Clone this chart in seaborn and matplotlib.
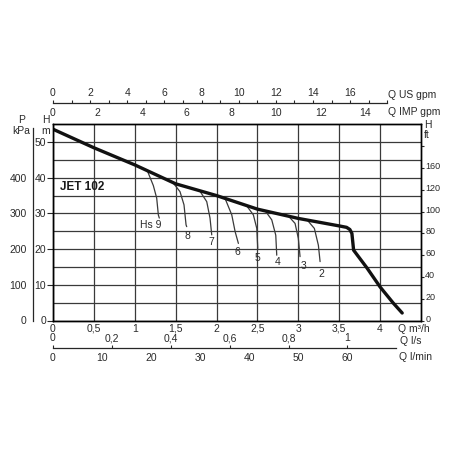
import numpy as np
import matplotlib
matplotlib.use("Agg")
import matplotlib.pyplot as plt
import matplotlib.transforms as mtransforms
import seaborn as sns

# -----------------------------
# Data (Q in m3/h, H in m)
# -----------------------------
main_q = [0, 0.5, 1.0, 1.5, 2.0, 2.5, 3.0, 3.5, 3.59, 3.63, 3.655, 3.676, 3.84, 4.0, 4.16, 4.27]
main_h = [53.6, 48.4, 43.6, 38.3, 35.0, 31.2, 28.6, 26.5, 26.1, 25.5, 24.4, 19.7, 14.7, 9.4, 4.9, 2.1]

hs_names = ["Hs 9", "8", "7", "6", "5", "4", "3", "2"]
hs_q = [
    [1.16, 1.227, 1.268, 1.288, 1.300],
    [1.471, 1.553, 1.602, 1.627, 1.635],
    [1.798, 1.880, 1.920, 1.941],
    [2.104, 2.186, 2.227, 2.267],
    [2.369, 2.450, 2.492, 2.504],
    [2.593, 2.675, 2.724, 2.736],
    [2.878, 2.960, 3.000, 3.021],
    [3.103, 3.196, 3.245, 3.266],
]
hs_h = [
    [41.6, 37.8, 34.3, 29.6, 28.7],
    [38.5, 36.1, 32.4, 26.8, 26.3],
    [36.2, 33.3, 28.7, 24.0],
    [34.2, 29.6, 24.9, 21.6],
    [32.1, 29.6, 25.8, 20.2],
    [30.8, 28.2, 23.9, 18.3],
    [29.3, 27.2, 23.0, 17.9],
    [28.3, 25.8, 21.1, 16.5],
]
hs_label_q = [1.20, 1.643, 1.941, 2.259, 2.504, 2.749, 3.062, 3.278]
hs_label_h = [26.8, 23.7, 21.9, 19.3, 17.6, 16.5, 15.4, 13.1]

q_ticks = [0, 0.5, 1, 1.5, 2, 2.5, 3, 3.5, 4]
q_labels = ["0", "0,5", "1", "1,5", "2", "2,5", "3", "3,5", "4"]
ls_ticks = [0, 0.2, 0.4, 0.6, 0.8, 1.0]
ls_labels = ["0", "0,2", "0,4", "0,6", "0,8", "1"]
lmin_ticks = [0, 10, 20, 30, 40, 50, 60, 70]
lmin_labels = ["0", "10", "20", "30", "40", "50", "60", ""]
us_ticks = [0, 2, 4, 6, 8, 10, 12, 14, 16, 18]
us_labels = ["0", "2", "4", "6", "8", "10", "12", "14", "16", ""]
imp_ticks = [0, 2, 4, 6, 8, 10, 12, 14]
imp_labels = ["0", "2", "4", "6", "8", "10", "12", "14"]
h_ticks = [0, 10, 20, 30, 40, 50]
ft_ticks = [0, 20, 40, 60, 80, 100, 120, 140, 160]
ft_labels = ["0", "20", "40", "60", "80", "100", "120", "160", ""]
kpa_ticks = [0, 100, 200, 300, 400, 500]
kpa_labels = ["0", "100", "200", "300", "400", ""]

# unit factors (to m3/h)
US_GPM = 0.2271247
IMP_GPM = 0.2727654
LPS = 3.6
LPM = 0.06

# -----------------------------
# Style
# -----------------------------
sns.set_style("white")
plt.rcParams["font.family"] = ["Liberation Sans", "DejaVu Sans"]
TXT = "#2a2a2a"
FS = 7.5


def fx(px):
    return px / 450


def fy(py):
    return 1 - py / 450


X0, X1 = 53, 421
Y0, Y1 = 320.5, 124.2
W = (X1 - X0) / 450
H = (Y0 - Y1) / 450
QMAX, HMAX = 4.5, 55

fig = plt.figure(figsize=(4.5, 4.5), dpi=100)
ax = fig.add_axes([fx(X0), fy(Y0), W, H])
ax.set_xlim(0, QMAX)
ax.set_ylim(0, HMAX)
ax.set_axisbelow(True)

ax.set_xticks(q_ticks)
ax.set_xticklabels(q_labels)
ax.set_yticks(h_ticks)
ax.set_yticks(np.arange(5, 50, 10), minor=True)
ax.grid(True, which="both", color="#3a3a3a", linewidth=0.9)
ax.tick_params(axis="x", length=0, pad=2.5, labelsize=FS, labelcolor=TXT)
ax.tick_params(axis="y", which="major", length=4, width=0.8, pad=1, labelsize=FS,
               labelcolor=TXT, direction="out")
ax.tick_params(axis="y", which="minor", length=0)
for s in ax.spines.values():
    s.set_color("black")
    s.set_linewidth(1.0)

# suction lift curves
for q, h in zip(hs_q, hs_h):
    sns.lineplot(x=q, y=h, ax=ax, color="#3a3a3a", linewidth=0.9, sort=False, estimator=None)
for name, lq, lh in zip(hs_names, hs_label_q, hs_label_h):
    ax.text(lq, lh, name, ha="center", va="center", fontsize=FS, color=TXT)

# main curve
sns.lineplot(x=main_q, y=main_h, ax=ax, color="#111111", linewidth=2.4, sort=False, estimator=None)
ax.text(0.086, 37.5, "JET 102", ha="left", va="center", fontsize=8.5,
        fontweight="bold", color="#1a1a1a")

# right axis: H ft (labels sit a little above their ticks, as in the sheet)
ax_ft = ax.twinx()
ax_ft.set_ylim(0, HMAX * 3.28084)
ax_ft.set_yticks(ft_ticks)
ax_ft.set_yticklabels(ft_labels)
ax_ft.tick_params(axis="y", length=2, width=0.8, pad=1, labelsize=6.5, labelcolor=TXT)
ax_ft.grid(False)
lift = mtransforms.ScaledTranslation(0, 2.5 / 100, fig.dpi_scale_trans)
for lab in ax_ft.get_yticklabels():
    lab.set_transform(lab.get_transform() + lift)
for s in ax_ft.spines.values():
    s.set_color("black")
    s.set_linewidth(1.0)

# left axis: P kPa
ax_p = fig.add_axes([fx(33), fy(Y0), 0.0005, H])
ax_p.patch.set_visible(False)
ax_p.set_ylim(0, HMAX * 10)
ax_p.set_yticks(kpa_ticks)
ax_p.set_yticklabels(kpa_labels)
ax_p.set_yticks(np.arange(50, 500, 100), minor=True)
ax_p.xaxis.set_visible(False)
for k in ["top", "right", "bottom"]:
    ax_p.spines[k].set_visible(False)
ax_p.spines["left"].set_bounds(0, 539)
ax_p.spines["left"].set_linewidth(0.9)
ax_p.tick_params(axis="y", which="major", length=3.5, width=0.8, pad=1, labelsize=FS, labelcolor=TXT)
ax_p.tick_params(axis="y", which="minor", length=3, width=0.8)

# top axes: US gpm (above) and IMP gpm (below)
top_rect = [fx(X0), fy(103.3), W, 0.0005]
ax_us = fig.add_axes(top_rect)
ax_us.patch.set_visible(False)
ax_us.set_xlim(0, QMAX / US_GPM)
ax_us.yaxis.set_visible(False)
ax_us.xaxis.set_ticks_position("top")
ax_us.xaxis.set_label_position("top")
ax_us.set_xticks(us_ticks)
ax_us.set_xticklabels(us_labels)
ax_us.set_xticks(np.arange(1, 18, 2), minor=True)
for k in ["top", "left", "right"]:
    ax_us.spines[k].set_visible(False)
ax_us.spines["bottom"].set_bounds(0, 18)
ax_us.spines["bottom"].set_linewidth(0.9)
ax_us.tick_params(axis="x", which="both", length=2.5, width=0.8, pad=0.8, labelsize=FS, labelcolor=TXT)

ax_imp = fig.add_axes(top_rect)
ax_imp.patch.set_visible(False)
ax_imp.set_xlim(0, QMAX / IMP_GPM)
ax_imp.yaxis.set_visible(False)
ax_imp.set_xticks(imp_ticks)
ax_imp.set_xticklabels(imp_labels)
ax_imp.set_xticks(np.arange(1, 15, 2), minor=True)
for s in ax_imp.spines.values():
    s.set_visible(False)
ax_imp.tick_params(axis="x", which="both", length=2.5, width=0.8, pad=1, labelsize=FS, labelcolor=TXT)

# bottom axes: l/s (above line) and l/min (below line)
bot_rect = [fx(X0), fy(348.3), W, 0.0005]
ax_ls = fig.add_axes(bot_rect)
ax_ls.patch.set_visible(False)
ax_ls.set_xlim(0, QMAX / LPS)
ax_ls.yaxis.set_visible(False)
ax_ls.xaxis.set_ticks_position("top")
ax_ls.set_xticks(ls_ticks)
ax_ls.set_xticklabels(ls_labels)
for s in ax_ls.spines.values():
    s.set_visible(False)
ax_ls.tick_params(axis="x", length=2.5, width=0.8, pad=1, labelsize=FS, labelcolor=TXT)

ax_lmin = fig.add_axes(bot_rect)
ax_lmin.patch.set_visible(False)
ax_lmin.set_xlim(0, QMAX / LPM)
ax_lmin.yaxis.set_visible(False)
ax_lmin.set_xticks(lmin_ticks)
ax_lmin.set_xticklabels(lmin_labels)
for k in ["top", "left", "right"]:
    ax_lmin.spines[k].set_visible(False)
ax_lmin.spines["bottom"].set_bounds(0, 70)
ax_lmin.spines["bottom"].set_linewidth(0.9)
ax_lmin.tick_params(axis="x", length=2.5, width=0.8, pad=1, labelsize=FS, labelcolor=TXT)

# -----------------------------
# Axis titles
# -----------------------------
tk = dict(fontsize=FS, color=TXT, va="center")
fig.text(fx(21.5), fy(120), "P", ha="center", **tk)
fig.text(fx(21.2), fy(130.5), "kPa", ha="center", **tk)
fig.text(fx(45.8), fy(120), "H", ha="center", **tk)
fig.text(fx(45.5), fy(131), "m", ha="center", **tk)
fig.text(fx(424.3), fy(125), "H", ha="left", **tk)
fig.text(fx(424.3), fy(135.5), "ft", ha="left", **tk)
fig.text(fx(388.5), fy(95), "Q US gpm", ha="left", **tk)
fig.text(fx(388.5), fy(112), "Q IMP gpm", ha="left", **tk)
fig.text(fx(398.3), fy(329), "Q m³/h", ha="left", **tk)
fig.text(fx(399.5), fy(340.5), "Q l/s", ha="left", **tk)
fig.text(fx(399.3), fy(356.7), "Q l/min", ha="left", **tk)

fig.savefig("out.png", dpi=100)
plt.close(fig)
